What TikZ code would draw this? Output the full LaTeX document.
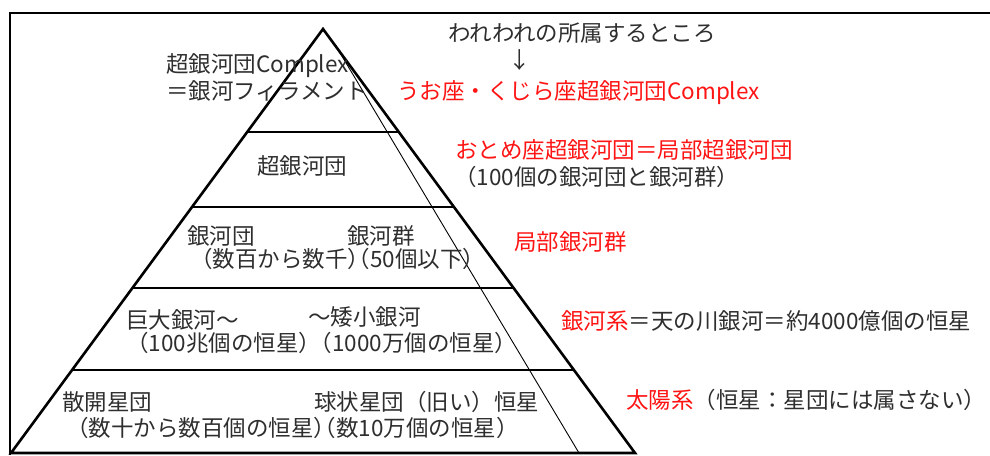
\documentclass[tikz,border=0pt]{standalone}
\usepackage{fontspec}
\setmainfont{Noto Sans CJK JP}
\usetikzlibrary{calc}
\definecolor{txt}{gray}{0.18}
\definecolor{redtxt}{RGB}{255,20,20}
\begin{document}
\begin{tikzpicture}[x=1pt,y=-1pt,
  lbl/.style={inner sep=0pt, anchor=west, text=txt,
    font=\fontsize{22.5}{27}\selectfont, text height=0.88em, text depth=0.12em},
  redlbl/.style={lbl, text=redtxt},
  pyr/.style={line width=2.6pt, line join=miter},
  layer/.style={line width=2.6pt},
  guide/.style={line width=0.9pt},
  frame/.style={line width=2pt}]
\useasboundingbox (0,0) rectangle (990,455);
% frame
\draw[frame] (990,12.5) -- (9.5,12.5) -- (9.5,455);
% pyramid
\coordinate (A) at (323,29);
\coordinate (BL) at (11,453);
\coordinate (BR) at (635,453);
\draw[pyr] (BL) -- (A) -- (BR) -- cycle;
\foreach \t/\n in {0.2429/1,0.4198/2,0.6108/3,0.8042/4}{
  \coordinate (L\n) at ($(A)!\t!(BL)$);
  \coordinate (R\n) at ($(A)!\t!(BR)$);
  \draw[layer] (L\n) -- (R\n);
}
\coordinate (G1) at ($(A)!0.0472!(BR)$);
\coordinate (G2) at (579,453);
\draw[guide] (G1) -- (G2);
% labels
\node[lbl] (ours) at (448,38) {われわれの所属するところ};
\node[lbl, anchor=center] (arr) at (520,65) {↓};
\node[redlbl] (pisces) at (397,96) {うお座・くじら座超銀河団Complex};
\node[lbl] (sgc) at (166,69) {超銀河団Complex};
\node[lbl] (fil) at (166,96) {＝銀河フィラメント};
\node[lbl, anchor=center] (sc) at (302,171) {超銀河団};
\node[redlbl] (virgo) at (455,155) {おとめ座超銀河団＝局部超銀河団};
\node[lbl] (virgo2) at (454,182) {（100個の銀河団と銀河群）};
\node[lbl] (gcl) at (187,241) {銀河団};
\node[lbl] (ggr) at (347,241) {銀河群};
\node[lbl] (gnum) at (190,264) {（数百から数千）\hspace{-1em}（50個以下）};
\node[redlbl] (lg) at (514,247) {局部銀河群};
\node[lbl] (giant) at (126,325) {巨大銀河～};
\node[lbl] (dwarf) at (308,322) {～矮小銀河};
\node[lbl] (gstars) at (126,348) {（100兆個の恒星）\hspace{-0.5em}（1000万個の恒星）};
\node[lbl] (mw) at (561,326) {\textcolor{redtxt}{銀河系}＝天の川銀河＝約4000億個の恒星};
\node[lbl] (open) at (62,407) {散開星団};
\node[lbl] (glob) at (314,407) {球状星団（旧い）恒星};
\node[lbl] (cstars) at (66,433) {（数十から数百個の恒星）\hspace{-1em}（数10万個の恒星）};
\node[lbl] (sun) at (626,405) {\textcolor{redtxt}{太陽系}（恒星：星団には属さない）};
\end{tikzpicture}
\end{document}
